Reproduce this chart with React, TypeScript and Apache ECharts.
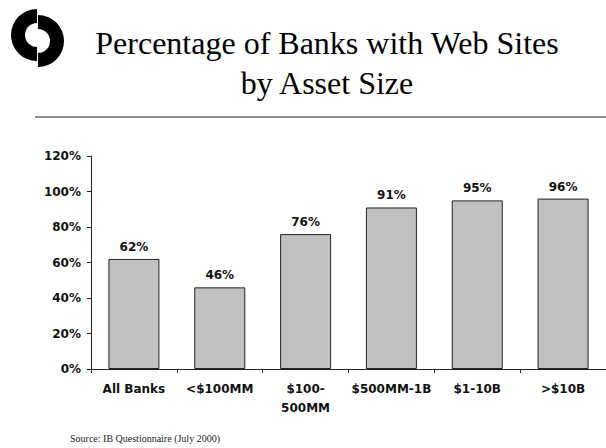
import React, { useEffect, useRef } from "react";
import * as echarts from "echarts";

const categories = ["All Banks", "<$100MM", "$100-\n500MM", "$500MM-1B", "$1-10B", ">$10B"];
const values = [62, 46, 76, 91, 95, 96];
const yTicks = [0, 20, 40, 60, 80, 100, 120];
const titleLines = ["Percentage of Banks with Web Sites", "by Asset Size"];
const sourceText = "Source: IB Questionnaire (July 2000)";

export default function App() {
  const ref = useRef<HTMLDivElement>(null);
  useEffect(() => {
    if (!ref.current) return;
    const chart = echarts.init(ref.current, undefined, { renderer: "svg" });
    const boldFont = "DejaVu Sans";
    chart.setOption({
      animation: false,
      backgroundColor: "#ffffff",
      grid: { left: 91, top: 156, width: 522, height: 213, containLabel: false },
      xAxis: {
        type: "category",
        data: categories,
        axisLine: { lineStyle: { color: "#222", width: 1 } },
        axisTick: { show: true, length: 4, alignWithLabel: false, lineStyle: { color: "#222" } },
        axisLabel: {
          color: "#111",
          fontFamily: boldFont,
          fontWeight: "bold",
          fontSize: 12,
          lineHeight: 19,
          margin: 10,
          interval: 0,
        },
      },
      yAxis: {
        type: "value",
        min: yTicks[0],
        max: yTicks[yTicks.length - 1],
        interval: 20,
        splitLine: { show: false },
        axisLine: { show: true, lineStyle: { color: "#222", width: 1 } },
        axisTick: { show: true, length: 4, lineStyle: { color: "#222" } },
        axisLabel: {
          color: "#111",
          fontFamily: boldFont,
          fontWeight: "bold",
          fontSize: 12,
          margin: 10,
          formatter: (v: number) => v + "%",
        },
      },
      series: [
        {
          type: "bar",
          data: values,
          barWidth: 51,
          itemStyle: { color: "#c0c0c0", borderColor: "#222", borderWidth: 1 },
          label: {
            show: true,
            position: "top",
            distance: 6,
            color: "#111",
            fontFamily: boldFont,
            fontWeight: "bold",
            fontSize: 12,
            formatter: (p: any) => p.value + "%",
          },
        },
      ],
      graphic: [
        {
          type: "sector",
          shape: { cx: 37, cy: 35, r: 26, r0: 12, startAngle: Math.PI / 2, endAngle: (3 * Math.PI) / 2, clockwise: true },
          style: { fill: "#000" },
        },
        {
          type: "sector",
          shape: { cx: 38, cy: 41, r: 26, r0: 12, startAngle: -Math.PI / 2, endAngle: Math.PI / 2, clockwise: true },
          style: { fill: "#000" },
        },
        {
          type: "text",
          x: 327,
          y: 43,
          style: {
            text: titleLines[0],
            fontFamily: "Liberation Serif",
            fontSize: 32,
            fill: "#000",
            align: "center",
            verticalAlign: "middle",
          },
        },
        {
          type: "text",
          x: 327,
          y: 83,
          style: {
            text: titleLines[1],
            fontFamily: "Liberation Serif",
            fontSize: 32,
            fill: "#000",
            align: "center",
            verticalAlign: "middle",
          },
        },
        {
          type: "line",
          shape: { x1: 35, y1: 117, x2: 606, y2: 117 },
          style: { stroke: "#666", lineWidth: 1.5 },
        },
        {
          type: "text",
          x: 70,
          y: 438,
          style: {
            text: sourceText,
            fontFamily: "Liberation Serif",
            fontSize: 10,
            fill: "#222",
            align: "left",
            verticalAlign: "middle",
          },
        },
      ],
    });
    return () => chart.dispose();
  }, []);
  return <div ref={ref} style={{ width: 606, height: 448, position: "absolute", left: 0, top: 0 }} />;
}
